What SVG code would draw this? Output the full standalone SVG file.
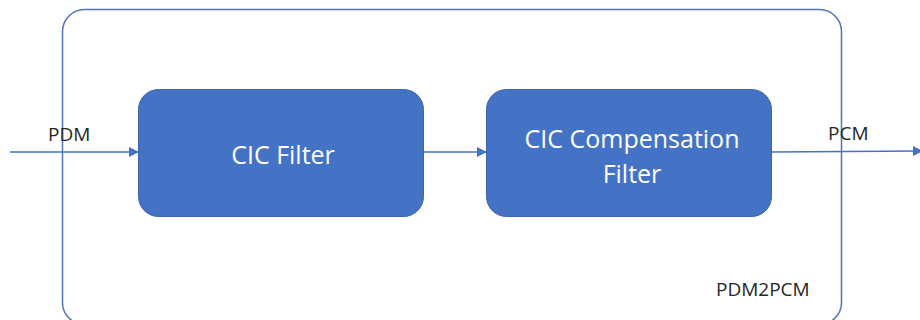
<svg xmlns="http://www.w3.org/2000/svg" width="920" height="320" viewBox="0 0 920 320">
<style>
.box{fill:#4472C4;stroke:#3A64AE;stroke-width:1}
.wt{fill:#FFFFFF;font-family:"Open Sans","Noto Sans",sans-serif;font-size:25px;text-anchor:middle}
.lb{fill:#262626;font-family:"Open Sans","Noto Sans",sans-serif;font-size:19px}
.ln{stroke:#4472C4;stroke-width:1.5;fill:none}
</style>
<defs>
<marker id="ah" markerWidth="10" markerHeight="10" refX="9" refY="5" orient="auto" markerUnits="userSpaceOnUse">
<path d="M0,0 L10,5 L0,10 Z" fill="#4472C4"/>
</marker>
</defs>
<rect x="0" y="0" width="920" height="320" fill="#FFFFFF"/>
<g id="pdm2pcm">
<rect x="62.5" y="9.5" width="779" height="315" rx="22" ry="22" fill="none" stroke="#4F74B8" stroke-width="1.5"/>
<text class="lb" x="716" y="296">PDM2PCM</text>
</g>
<g id="connectors">
<line class="ln" x1="10" y1="152" x2="138" y2="152" marker-end="url(#ah)"/>
<line class="ln" x1="424" y1="152" x2="486" y2="152" marker-end="url(#ah)"/>
<line class="ln" x1="772" y1="152" x2="922" y2="151" marker-end="url(#ah)"/>
<text class="lb" x="48" y="141">PDM</text>
<text class="lb" x="828" y="140">PCM</text>
</g>
<g id="cic">
<rect class="box" x="138.5" y="89.5" width="285" height="127" rx="20" ry="20"/>
<text class="wt" x="283" y="164">CIC Filter</text>
</g>
<g id="ciccomp">
<rect class="box" x="486.5" y="89.5" width="285" height="127" rx="20" ry="20"/>
<text class="wt" x="632" y="148">CIC Compensation</text>
<text class="wt" x="632" y="183">Filter</text>
</g>
</svg>
